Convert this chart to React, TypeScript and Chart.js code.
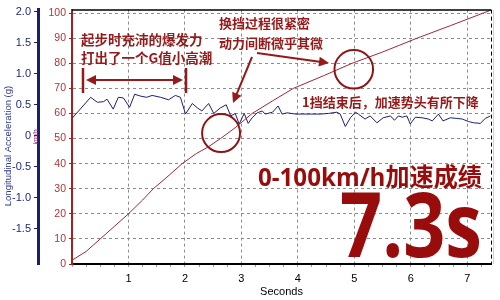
import React, { useEffect, useRef } from "react";
import { Chart, registerables } from "chart.js";

Chart.register(...registerables);

// Speed curve (km/h) vs time (s)
const speedTime = [0, 0.25, 0.5, 0.75, 1.0, 1.25, 1.44, 1.7, 1.95, 2.2, 2.4, 2.63, 2.9, 3.19, 3.55, 3.92, 4.45, 4.96, 5.5, 6.11, 6.7, 7.28, 7.42];
const speedKmh = [1.5, 5, 10, 15, 20, 25.5, 30, 35, 40, 44, 46.5, 50, 54.5, 60, 65, 70, 75, 80, 84.5, 90, 95, 100, 101.2];

// Longitudinal acceleration (g) vs time (s)
const accelTime = [0, 0.33, 0.45, 0.56, 0.62, 0.73, 0.82, 0.91, 1.02, 1.11, 1.21, 1.32, 1.42, 1.57, 1.71, 1.83, 1.92, 2.01, 2.13, 2.22, 2.3, 2.42, 2.51, 2.63, 2.73, 2.81, 2.89, 2.96, 3.05, 3.12, 3.19, 3.28, 3.37, 3.42, 3.55, 3.65, 3.72, 3.81, 3.96, 4.08, 4.22, 4.4, 4.54, 4.69, 4.75, 4.84, 4.93, 5.02, 5.07, 5.19, 5.28, 5.4, 5.51, 5.64, 5.71, 5.78, 5.85, 5.93, 5.99, 6.08, 6.2, 6.31, 6.38, 6.49, 6.57, 6.7, 6.82, 6.91, 7.02, 7.11, 7.23, 7.32, 7.41];
const accelG = [0.28, 0.62, 0.54, 0.55, 0.59, 0.43, 0.62, 0.61, 0.46, 0.67, 0.64, 0.62, 0.65, 0.62, 0.58, 0.65, 0.62, 0.35, 0.52, 0.45, 0.4, 0.52, 0.36, 0.45, 0.5, 0.32, 0.36, 0.19, 0.36, 0.2, 0.29, 0.37, 0.4, 0.35, 0.38, 0.48, 0.35, 0.37, 0.35, 0.35, 0.35, 0.35, 0.36, 0.38, 0.35, 0.15, 0.29, 0.38, 0.35, 0.27, 0.32, 0.21, 0.29, 0.32, 0.25, 0.32, 0.3, 0.32, 0.19, 0.3, 0.29, 0.27, 0.24, 0.35, 0.24, 0.29, 0.28, 0.27, 0.23, 0.21, 0.2, 0.28, 0.32];

// Tick labels
const secondTicks = [1, 2, 3, 4, 5, 6, 7];
const gTicks = [-1.5, -1, -0.5, 0, 0.5, 1, 1.5, 2];
const kmhTicks = [0, 10, 20, 30, 40, 50, 60, 70, 80, 90, 100];

const xMax = 7.42;
const DARK_RED = "#961a1a";
const CJK = '"Noto Sans CJK SC", "Noto Sans", sans-serif';

function arrowHead(ctx: CanvasRenderingContext2D, x1: number, y1: number, x2: number, y2: number, len = 10, half = 5) {
  const a = Math.atan2(y2 - y1, x2 - x1);
  ctx.beginPath();
  ctx.moveTo(x2, y2);
  ctx.lineTo(x2 - len * Math.cos(a) + half * Math.sin(a), y2 - len * Math.sin(a) - half * Math.cos(a));
  ctx.lineTo(x2 - len * Math.cos(a) - half * Math.sin(a), y2 - len * Math.sin(a) + half * Math.cos(a));
  ctx.closePath();
  ctx.fill();
}

function arrow(ctx: CanvasRenderingContext2D, x1: number, y1: number, x2: number, y2: number) {
  const a = Math.atan2(y2 - y1, x2 - x1);
  ctx.beginPath();
  ctx.moveTo(x1, y1);
  ctx.lineTo(x2 - 6 * Math.cos(a), y2 - 6 * Math.sin(a));
  ctx.stroke();
  arrowHead(ctx, x1, y1, x2, y2);
}

function fitText(ctx: CanvasRenderingContext2D, text: string, x: number, y: number, width: number) {
  const w = ctx.measureText(text).width;
  ctx.save();
  ctx.translate(x, y);
  ctx.scale(width / w, 1);
  ctx.fillText(text, 0, 0);
  ctx.restore();
}

const overlayPlugin = {
  id: "overlay",
  afterDraw(chart: any) {
    const { ctx, chartArea } = chart;
    const { left, right, top, bottom } = chartArea;
    const xs = chart.scales.x;
    const yr = chart.scales.yR;
    ctx.save();

    // frame: top solid, right dashed, faint cyan edge
    ctx.strokeStyle = "#000";
    ctx.lineWidth = 1.5;
    ctx.beginPath();
    ctx.moveTo(left, top + 0.5);
    ctx.lineTo(right, top + 0.5);
    ctx.stroke();
    ctx.lineWidth = 1;
    ctx.setLineDash([4, 3]);
    ctx.beginPath();
    ctx.moveTo(right + 0.5, top);
    ctx.lineTo(right + 0.5, bottom);
    ctx.stroke();
    ctx.setLineDash([]);
    ctx.strokeStyle = "#a6e6ea";
    ctx.beginPath();
    ctx.moveTo(right + 2.5, top);
    ctx.lineTo(right + 2.5, bottom);
    ctx.stroke();

    // axis titles
    ctx.fillStyle = "#2b3990";
    ctx.font = '9.5px "Liberation Sans", Arial, sans-serif';
    ctx.textAlign = "center";
    ctx.textBaseline = "middle";
    ctx.save();
    ctx.translate(8, 146);
    ctx.rotate(-Math.PI / 2);
    ctx.fillText("Longitudinal Acceleration (g)", 0, 0);
    ctx.restore();
    ctx.fillStyle = "#9a2a6a";
    ctx.font = '7px "Liberation Sans", Arial, sans-serif';
    ctx.save();
    ctx.translate(36, 137);
    ctx.rotate(-Math.PI / 2);
    ctx.fillText("km/h", 0, 0);
    ctx.restore();

    // annotations
    ctx.fillStyle = DARK_RED;
    ctx.strokeStyle = DARK_RED;
    ctx.textAlign = "left";
    ctx.textBaseline = "middle";
    ctx.font = `bold 13.5px ${CJK}`;
    ctx.fillText("起步时充沛的爆发力", 81, 40);
    ctx.fillText("打出了一个G值小高潮", 81, 58);
    ctx.font = `bold 13px ${CJK}`;
    ctx.fillText("换挡过程很紧密", 219, 23);
    ctx.fillText("动力间断微乎其微", 219, 43);
    ctx.fillText("1挡结束后，加速势头有所下降", 302, 102);

    // double arrow bracket
    ctx.lineWidth = 2.5;
    ctx.beginPath();
    ctx.moveTo(83, 68);
    ctx.lineTo(83, 93);
    ctx.moveTo(186, 68);
    ctx.lineTo(186, 93);
    ctx.stroke();
    ctx.lineWidth = 2;
    arrow(ctx, 135, 80, 86, 80);
    arrow(ctx, 135, 80, 183, 80);

    // pointer arrows
    arrow(ctx, 252, 57, 233, 103);
    arrow(ctx, 257, 53, 329, 63);

    // circles on the speed curve (gear changes)
    ctx.lineWidth = 2;
    ctx.strokeStyle = "#8e1414";
    ctx.beginPath();
    ctx.arc(xs.getPixelForValue(2.64), yr.getPixelForValue(52.2), 19, 0, Math.PI * 2);
    ctx.stroke();
    ctx.beginPath();
    ctx.arc(xs.getPixelForValue(4.99), yr.getPixelForValue(77.6), 19.3, 0, Math.PI * 2);
    ctx.stroke();

    // headline
    ctx.fillStyle = "#990c0c";
    ctx.textBaseline = "alphabetic";
    ctx.font = `bold 25px "Open Sans", ${CJK}`;
    fitText(ctx, "0-100km/h加速成绩", 258, 186, 224);
    ctx.font = 'bold 89px "Open Sans", "Liberation Sans", sans-serif';
    fitText(ctx, "7.3s", 340, 257, 142);

    ctx.restore();
  },
};

export default function App() {
  const ref = useRef<HTMLCanvasElement>(null);
  useEffect(() => {
    document.body.style.margin = "0";
    Chart.defaults.font.family = '"Liberation Sans", Arial, sans-serif';
    const minor: number[] = [];
    for (let i = 0; i <= 29; i++) minor.push(i / 4);
    const chart = new Chart(ref.current as HTMLCanvasElement, {
      type: "line",
      data: {
        datasets: [
          {
            label: "km/h",
            data: speedTime.map((t, i) => ({ x: t, y: speedKmh[i] })),
            yAxisID: "yR",
            borderColor: "#a0283c",
            borderWidth: 1,
            pointRadius: 0,
            tension: 0,
          },
          {
            label: "g",
            data: accelTime.map((t, i) => ({ x: t, y: accelG[i] })),
            yAxisID: "yB",
            borderColor: "#1a1f7a",
            borderWidth: 1,
            pointRadius: 0,
            tension: 0,
          },
        ],
      },
      options: {
        responsive: false,
        animation: false,
        layout: { padding: { top: 8, right: 9, left: 0, bottom: 0 } },
        plugins: { legend: { display: false }, tooltip: { enabled: false } },
        scales: {
          x: {
            type: "linear",
            position: "bottom",
            min: 0,
            max: xMax,
            afterBuildTicks: (s: any) => {
              s.ticks = minor.filter((v) => v <= xMax).map((v) => ({ value: v }));
            },
            ticks: {
              autoSkip: false,
              maxRotation: 0,
              padding: 5,
              color: "#000",
              font: { size: 11 },
              callback: (v: any) => (secondTicks.includes(Number(v)) ? String(v) : ""),
            },
            grid: {
              color: (c: any) => (c.tick && secondTicks.includes(c.tick.value) ? "#8c8c8c" : "rgba(0,0,0,0)"),
              tickLength: 3,
              tickColor: "#a0a0a0",
            },
            border: { display: true, color: "#000", width: 2, dash: [3, 3] },
            title: { display: true, text: "Seconds", color: "#000", font: { size: 11 }, padding: { top: 0, bottom: 1 } },
            afterFit: (s: any) => {
              s.height = 36;
            },
          },
          yR: {
            type: "linear",
            position: "left",
            weight: 0,
            min: 0,
            max: 101.4,
            afterBuildTicks: (s: any) => {
              s.ticks = kmhTicks.map((v) => ({ value: v }));
            },
            ticks: { color: "#b03434", font: { size: 10.5 }, padding: 3 },
            grid: { color: "#8c8c8c", tickLength: 3, tickColor: "#a52020" },
            border: { display: true, color: "#a52020", width: 2, dash: [3, 3] },
            afterFit: (s: any) => {
              s.width = 34;
            },
          },
          yB: {
            type: "linear",
            position: "left",
            weight: 10,
            min: -2.064,
            max: 2.032,
            afterBuildTicks: (s: any) => {
              s.ticks = gTicks.map((v) => ({ value: v }));
            },
            ticks: { color: "#1f2a80", font: { size: 11 }, padding: 3 },
            grid: { drawOnChartArea: false, tickLength: 4, tickColor: "#1a1f6e" },
            border: { display: true, color: "#1a1f6e", width: 3 },
            afterFit: (s: any) => {
              s.width = 38;
            },
          },
        },
      } as any,
      plugins: [overlayPlugin],
    });
    return () => chart.destroy();
  }, []);
  return (
    <div style={{ width: 500, height: 300 }}>
      <canvas ref={ref} width={500} height={300} style={{ display: "block" }} />
    </div>
  );
}
